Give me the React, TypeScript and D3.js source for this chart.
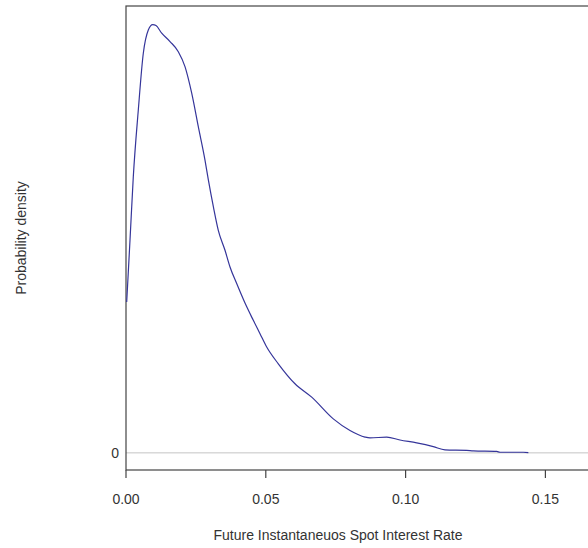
import React from "react";
import * as d3 from "d3";

// Future instantaneous spot interest rate (x) and estimated probability density (y)
const rates = [
  0.00025, 0.00143, 0.00261, 0.0044, 0.00619, 0.00798, 0.00955, 0.01073, 0.01277,
  0.01574, 0.01871, 0.0211, 0.0235, 0.02586, 0.02825, 0.02947, 0.03126, 0.03301,
  0.03541, 0.0372, 0.03959, 0.04256, 0.04553, 0.04793, 0.05032, 0.05447, 0.06044,
  0.06642, 0.07414, 0.08011, 0.08548, 0.08727, 0.09324, 0.098, 0.10397, 0.10991,
  0.11409, 0.12185, 0.12421, 0.13258, 0.13376, 0.1421, 0.1439,
];
const densities = [
  9.37, 13.2, 17.14, 21.29, 24.81, 26.26, 26.59, 26.53, 26.06,
  25.54, 24.91, 23.98, 22.33, 20.25, 18.18, 16.93, 15.27, 13.82,
  12.58, 11.54, 10.51, 9.3, 8.23, 7.4, 6.57, 5.53, 4.29,
  3.46, 2.11, 1.39, 0.98, 0.93, 0.98, 0.8, 0.62, 0.39,
  0.19, 0.16, 0.12, 0.09, 0.04, 0.04, 0.01,
];
const xTicks = [0, 0.05, 0.1, 0.15];
const yTicks = [0];
const xTitle = "Future Instantaneuos Spot Interest Rate";
const yTitle = "Probability density";

const W = 588;
const H = 548;
const plotLeft = 126;
const plotTop = 6;
const plotBottom = 470;
const plotRight = 620; // frame continues past the visible edge

export default function App() {
  const x = d3.scaleLinear().domain([0, 0.05]).range([126, 265.8]);
  const peak = d3.max(densities) as number;
  const pad = peak * 0.04;
  const y = d3.scaleLinear().domain([-pad, peak + pad]).range([plotBottom, plotTop + 1.5]);

  const pts = rates.map((r, i) => [r, densities[i]] as [number, number]);
  const line = d3
    .line<[number, number]>()
    .x((d) => x(d[0]))
    .y((d) => y(d[1]))
    .curve(d3.curveMonotoneX);

  const font = "'Liberation Sans', Arial, sans-serif";
  const textColor = "#333";

  return (
    <div style={{ position: "absolute", left: 0, top: 0 }}>
      <svg width={W} height={H} style={{ display: "block", background: "#fff" }}>
        {/* zero reference line */}
        <line x1={plotLeft} x2={W} y1={y(0)} y2={y(0)} stroke="#c4c4c4" strokeWidth={1} />
        {/* frame */}
        <rect
          x={plotLeft}
          y={plotTop}
          width={plotRight - plotLeft}
          height={plotBottom - plotTop}
          fill="none"
          stroke="#444"
          strokeWidth={1.2}
        />
        {/* density curve */}
        <path d={line(pts) || ""} fill="none" stroke="#35359a" strokeWidth={1.2} />
        {/* x ticks */}
        {xTicks.map((t) => (
          <g key={t}>
            <line x1={x(t)} x2={x(t)} y1={plotBottom} y2={plotBottom + 8} stroke="#444" strokeWidth={1.2} />
            <text
              x={x(t)}
              y={504}
              textAnchor="middle"
              fontFamily={font}
              fontSize={14}
              fill={textColor}
            >
              {d3.format(".2f")(t)}
            </text>
          </g>
        ))}
        {/* y tick labels */}
        {yTicks.map((t) => (
          <text
            key={t}
            x={119}
            y={y(t) + 5}
            textAnchor="end"
            fontFamily={font}
            fontSize={14}
            fill={textColor}
          >
            {t}
          </text>
        ))}
        {/* axis titles */}
        <text x={338} y={540} textAnchor="middle" fontFamily={font} fontSize={14} fill={textColor}>
          {xTitle}
        </text>
        <text
          transform={`translate(26,${(plotTop + plotBottom) / 2}) rotate(-90)`}
          textAnchor="middle"
          fontFamily={font}
          fontSize={14}
          fill={textColor}
        >
          {yTitle}
        </text>
      </svg>
    </div>
  );
}
